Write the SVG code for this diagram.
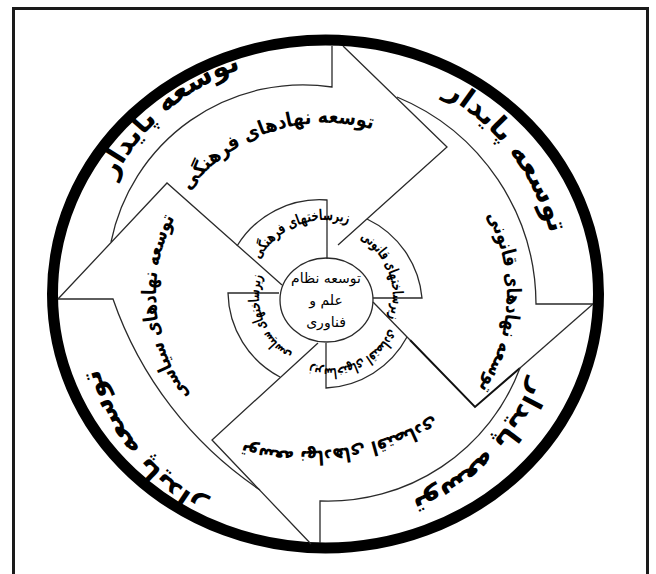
<svg xmlns="http://www.w3.org/2000/svg" width="656" height="574" viewBox="0 0 656 574">
<defs>
<style>
.ln{fill:none;stroke:#2a2a2a;stroke-width:1.3;stroke-linejoin:miter}
.lnb{fill:none;stroke:#111;stroke-width:2}
.t{font-family:'DejaVu Sans',sans-serif;font-weight:bold;fill:#000;text-anchor:middle}
.o{font-size:28px}
.m{font-size:20px}
.i{font-size:15px}
.c{font-family:'DejaVu Sans',sans-serif;font-size:14px;fill:#000;text-anchor:middle}
</style>
<path id="pTL" d="M144.8,426.7 A222,222 0 0 1 481.6,133.9"/>
<path id="pTR" d="M201.3,99.3 A232,232 0 0 1 482.7,466.1"/>
<path id="pBR" d="M495.1,151.1 A222,222 0 0 1 184.5,466.1"/>
<path id="pBL" d="M450.1,479 A214,214 0 0 1 171.8,135.3"/>
<path id="mT" d="M158.7,335.1 A172,172 0 0 1 483.7,226.4"/>
<path id="mR" d="M346.2,127 A168,168 0 0 1 331.1,463"/>
<path id="mB" d="M499.4,362.9 A263,263 0 0 1 164.8,411.8"/>
<path id="mL" d="M326,463 A168,168 0 0 1 298.2,129"/>
<path id="iT" d="M253.3,318.2 A76,76 0 0 1 393.7,261.5"/>
<path id="iR" d="M308.7,231.3 A67,67 0 0 1 354.3,356.7"/>
<path id="iB" d="M393.7,271.4 A72,72 0 0 1 263.6,332"/>
<path id="iL" d="M344.5,360.4 A67,67 0 0 1 296.6,235.8"/>
</defs>
<rect width="656" height="574" fill="#fff"/>
<rect x="13.5" y="8.5" width="634" height="600" fill="none" stroke="#1a1a1a" stroke-width="3"/>
<g id="ring">
<ellipse cx="325.5" cy="294" rx="273" ry="254" fill="none" stroke="#000" stroke-width="11"/>
<text class="t o"><textPath href="#pTL" startOffset="50%" textLength="172" lengthAdjust="spacingAndGlyphs">توسعه پایدار</textPath></text>
<text class="t o"><textPath href="#pTR" startOffset="50%" textLength="180" lengthAdjust="spacingAndGlyphs">توسعه پایدار</textPath></text>
<text class="t o"><textPath href="#pBR" startOffset="50%" textLength="176" lengthAdjust="spacingAndGlyphs">توسعه پایدار</textPath></text>
<text class="t o"><textPath href="#pBL" startOffset="50%" textLength="176" lengthAdjust="spacingAndGlyphs">توسعه پایدار</textPath></text>
</g>
<g id="connectors">
<path class="ln" d="M111,242 A196,196 0 0 1 332,87 L332,46"/>
<path class="ln" d="M343,46 L447,147 L338,245"/>
<path class="ln" d="M397,97 A225,225 0 0 1 536,304 L593,304"/>
<path class="ln" d="M593,304 L520,368"/>
<path class="lnb" d="M520,368 L475,407 L410,340"/>
<path class="ln" d="M410,340 L373,302"/>
<path class="ln" d="M520,368 A205,205 0 0 1 320,501 L320,543"/>
<path class="ln" d="M311,544 L212,440 L318,343"/>
<path class="ln" d="M260,490 A380,380 0 0 1 113,299 L58,299"/>
<path class="ln" d="M58,299 L167,183 L282,285"/>
</g>
<g id="arrow-top"><text class="t m"><textPath href="#mT" startOffset="50%" textLength="205" lengthAdjust="spacingAndGlyphs">توسعه نهادهای فرهنگی</textPath></text></g>
<g id="arrow-right"><text class="t m"><textPath href="#mR" startOffset="50%" textLength="182" lengthAdjust="spacingAndGlyphs">توسعه نهادهای قانونی</textPath></text></g>
<g id="arrow-bottom"><text class="t m"><textPath href="#mB" startOffset="50%" textLength="198" lengthAdjust="spacingAndGlyphs">توسعه نهادهای اقتصادی</textPath></text></g>
<g id="arrow-left"><text class="t m"><textPath href="#mL" startOffset="50%" textLength="188" lengthAdjust="spacingAndGlyphs">توسعه نهادهای سیاسی</textPath></text></g>
<g id="seg-top">
<path class="ln" d="M327,259 L327,200 A97,97 0 0 0 237,246"/>
<text class="t i"><textPath href="#iT" startOffset="50%" textLength="104" lengthAdjust="spacingAndGlyphs">زیرساختهای فرهنگی</textPath></text>
</g>
<g id="seg-right">
<path class="ln" d="M367,219 A97,97 0 0 1 422,298 L373,298"/>
<text class="t i"><textPath href="#iR" startOffset="50%" textLength="92" lengthAdjust="spacingAndGlyphs">زیرساختهای قانونی</textPath></text>
</g>
<g id="seg-bottom">
<path class="ln" d="M407,337 A97,97 0 0 1 326,388 L326,343"/>
<text class="t i"><textPath href="#iB" startOffset="50%" textLength="96" lengthAdjust="spacingAndGlyphs">زیرساختهای اقتصادی</textPath></text>
</g>
<g id="seg-left">
<path class="ln" d="M279,293 L228,293 A97,97 0 0 0 280,377"/>
<text class="t i"><textPath href="#iL" startOffset="50%" textLength="90" lengthAdjust="spacingAndGlyphs">زیرساختهای سیاسی</textPath></text>
</g>
<g id="center">
<ellipse cx="326.5" cy="300" rx="46.5" ry="42" fill="#fff" class="ln"/>
<text class="c" x="326" y="283">توسعه نظام</text>
<text class="c" x="326" y="305">علم و</text>
<text class="c" x="326" y="327">فناوری</text>
</g>
</svg>
